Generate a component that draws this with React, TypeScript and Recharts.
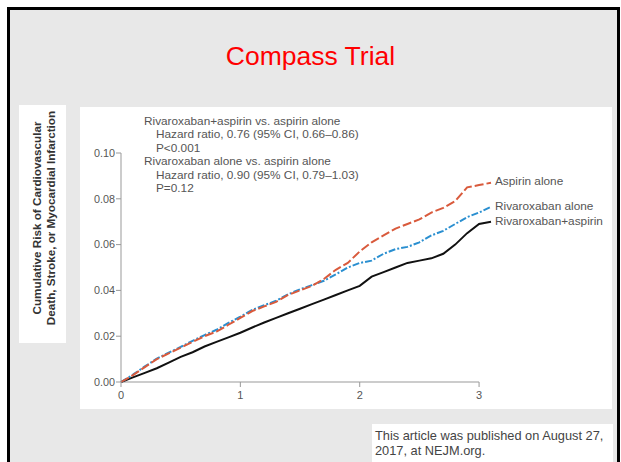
import { LineChart, Line, XAxis, YAxis, ReferenceLine } from 'recharts'

// Years of follow-up
const years = [
  0, 0.1, 0.2, 0.3, 0.4, 0.5, 0.6, 0.7, 0.8, 0.9, 1.0, 1.1, 1.2, 1.3, 1.4, 1.5,
  1.6, 1.7, 1.8, 1.9, 2.0, 2.1, 2.2, 2.3, 2.4, 2.5, 2.6, 2.7, 2.8, 2.9, 3.0, 3.1,
]

const aspirinAlone = [
  0, 0.003, 0.0065, 0.01, 0.0125, 0.015, 0.0175, 0.02, 0.022, 0.025, 0.028, 0.031,
  0.033, 0.035, 0.038, 0.04, 0.042, 0.045, 0.049, 0.052, 0.057, 0.061, 0.064,
  0.067, 0.069, 0.071, 0.074, 0.076, 0.079, 0.085, 0.086, 0.087,
]

const rivaroxabanAlone = [
  0, 0.0032, 0.0068, 0.0102, 0.0128, 0.0153, 0.018, 0.0205, 0.0228, 0.0258, 0.0285,
  0.0315, 0.0335, 0.0355, 0.0383, 0.0405, 0.0423, 0.0442, 0.047, 0.05, 0.052,
  0.053, 0.056, 0.058, 0.059, 0.061, 0.064, 0.066, 0.069, 0.072, 0.074, 0.0765,
]

const rivaroxabanAspirin = [
  0, 0.002, 0.004, 0.006, 0.0085, 0.011, 0.013, 0.0155, 0.0175, 0.0195, 0.0215,
  0.0238, 0.026, 0.028, 0.03, 0.032, 0.034, 0.036, 0.038, 0.04, 0.042, 0.046,
  0.048, 0.05, 0.052, 0.053, 0.054, 0.056, 0.06, 0.065, 0.069, 0.07,
]

const xTicks = [0, 1, 2, 3]
const yTicks = [0, 0.02, 0.04, 0.06, 0.08, 0.1]

const annotationLines = [
  { text: 'Rivaroxaban+aspirin vs. aspirin alone', indent: false },
  { text: 'Hazard ratio, 0.76 (95% CI, 0.66–0.86)', indent: true },
  { text: 'P<0.001', indent: true },
  { text: 'Rivaroxaban alone vs. aspirin alone', indent: false },
  { text: 'Hazard ratio, 0.90 (95% CI, 0.79–1.03)', indent: true },
  { text: 'P=0.12', indent: true },
]

const chartData = years.map((t, i) => ({
  t,
  aspirin: aspirinAlone[i],
  riva: rivaroxabanAlone[i],
  combo: rivaroxabanAspirin[i],
}))

// Liberation Sans has a compact line box, so stacked lines don't collide
const FONT = '"Liberation Sans", Arial, sans-serif'
const TEXT_GREY = '#555'

// label only at the last point of a series
function endLabel(name: string, dy: number) {
  return (props: any) => {
    const { x, y, index } = props
    if (index !== years.length - 1) return null
    return (
      <text
        x={x + 4}
        y={y + dy}
        fontSize={11.8}
        fontFamily={FONT}
        fill={TEXT_GREY}
        dominantBaseline="middle"
      >
        {name}
      </text>
    )
  }
}

export default function App() {
  return (
    <div
      style={{
        position: 'absolute',
        left: 0,
        top: 0,
        width: 621,
        height: 462,
        overflow: 'hidden',
        background: '#fff',
        fontFamily: FONT,
      }}
    >
      {/* slide frame */}
      <div
        style={{
          position: 'absolute',
          left: 7,
          top: 7,
          width: 607,
          height: 470,
          border: '3px solid #000',
          background: '#e8e8e8',
        }}
      />
      <div
        style={{
          position: 'absolute',
          left: 0,
          top: 41,
          width: 621,
          textAlign: 'center',
          color: '#ff0000',
          fontSize: 26.5,
          lineHeight: '30px',
        }}
      >
        Compass Trial
      </div>

      {/* y axis title box */}
      <div
        style={{
          position: 'absolute',
          left: 19,
          top: 105,
          width: 47,
          height: 238,
          background: '#fff',
        }}
      >
        <div
          style={{
            position: 'absolute',
            left: 23.5,
            top: 113,
            width: 238,
            transform: 'translate(-50%, -50%) rotate(-90deg)',
            textAlign: 'center',
            fontSize: 11.7,
            fontWeight: 700,
            lineHeight: '13.5px',
            color: '#333',
            whiteSpace: 'nowrap',
          }}
        >
          Cumulative Risk of Cardiovascular
          <br />
          Death, Stroke, or Myocardial Infarction
        </div>
      </div>

      {/* chart panel */}
      <div
        style={{
          position: 'absolute',
          left: 80,
          top: 107,
          width: 532,
          height: 302,
          background: '#fff',
        }}
      >
        <LineChart
          width={532}
          height={302}
          data={chartData}
          margin={{ top: 46, right: 121, bottom: 5, left: 0 }}
        >
          <XAxis
            dataKey="t"
            type="number"
            domain={[0, 3.1]}
            ticks={xTicks}
            axisLine={false}
            tickLine={{ stroke: '#999' }}
            tickSize={5}
            tickMargin={4}
            height={22}
            tick={{ fontSize: 11, fill: TEXT_GREY, fontFamily: FONT }}
          />
          <YAxis
            type="number"
            domain={[0, 0.1]}
            ticks={yTicks}
            width={41}
            axisLine={{ stroke: '#999' }}
            tickLine={{ stroke: '#999' }}
            tickSize={5}
            tickMargin={1}
            tickFormatter={(v: number) => v.toFixed(2)}
            tick={{ fontSize: 10.8, fill: TEXT_GREY, fontFamily: FONT }}
          />
          <ReferenceLine
            segment={[
              { x: 0, y: 0 },
              { x: 3, y: 0 },
            ]}
            stroke="#999"
          />
          <Line
            type="linear"
            dataKey="combo"
            stroke="#111"
            strokeWidth={2}
            dot={false}
            isAnimationActive={false}
            label={endLabel('Rivaroxaban+aspirin', 0)}
          />
          <Line
            type="linear"
            dataKey="riva"
            stroke="#2a8fd0"
            strokeWidth={2}
            strokeDasharray="7 2 2 2"
            dot={false}
            isAnimationActive={false}
            label={endLabel('Rivaroxaban alone', 0)}
          />
          <Line
            type="linear"
            dataKey="aspirin"
            stroke="#d95a3c"
            strokeWidth={2}
            strokeDasharray="9 3"
            dot={false}
            isAnimationActive={false}
            label={endLabel('Aspirin alone', -1)}
          />
        </LineChart>

        {/* hazard ratio annotation */}
        <div style={{ position: 'absolute', left: 64, top: 8 }}>
          {annotationLines.map((l) => (
            <div
              key={l.text}
              style={{
                paddingLeft: l.indent ? 12 : 0,
                fontSize: 11.8,
                lineHeight: '13.4px',
                color: TEXT_GREY,
                whiteSpace: 'nowrap',
              }}
            >
              {l.text}
            </div>
          ))}
        </div>
      </div>

      {/* citation */}
      <div
        style={{
          position: 'absolute',
          left: 372,
          top: 424,
          width: 241,
          height: 50,
          background: '#fff',
          boxSizing: 'border-box',
          padding: '4px 0 0 3px',
          fontSize: 12.8,
          lineHeight: '15px',
          color: '#444',
          whiteSpace: 'nowrap',
        }}
      >
        This article was published on August 27,
        <br />
        2017, at NEJM.org.
      </div>
    </div>
  )
}
